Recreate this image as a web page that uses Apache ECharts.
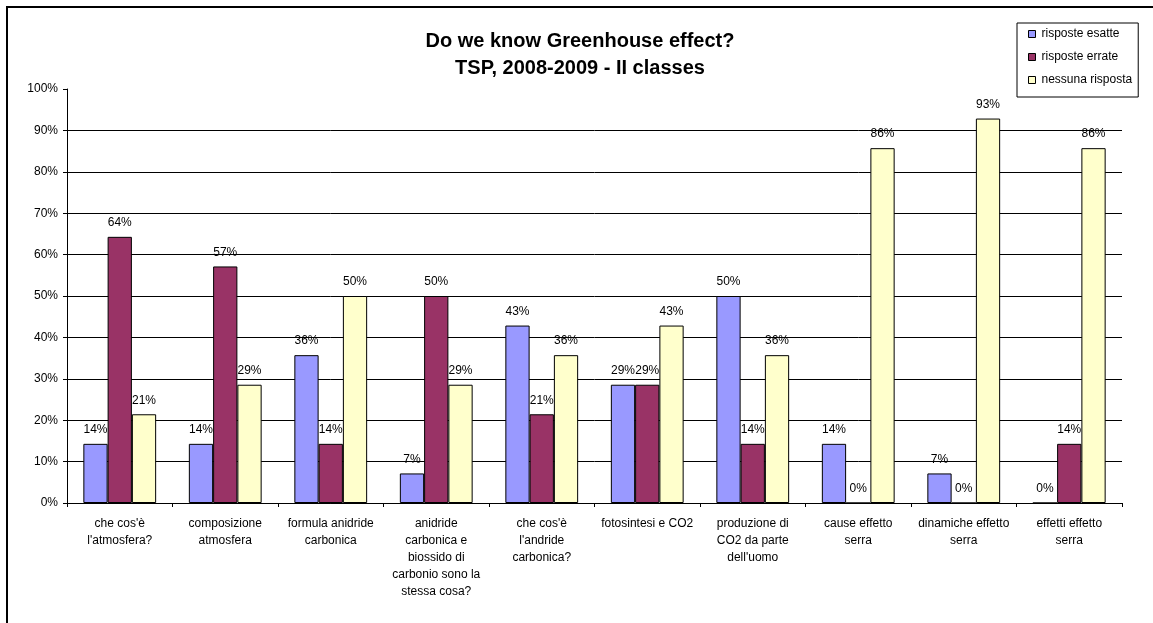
<!DOCTYPE html>
<html>
<head>
<meta charset="utf-8">
<script src="https://cdn.jsdelivr.net/npm/echarts@6/dist/echarts.min.js"></script>
<style>
  html, body { margin: 0; padding: 0; background: #fff; }
  #chart { width: 1153px; height: 623px; }
</style>
</head>
<body>
<div id="chart"></div>
<script>
// categorie (domande)
const categories = [
  "che cos'è\nl'atmosfera?",
  'composizione\natmosfera',
  'formula anidride\ncarbonica',
  'anidride\ncarbonica e\nbiossido di\ncarbonio sono la\nstessa cosa?',
  "che cos'è\nl'andride\ncarbonica?",
  'fotosintesi e CO2',
  "produzione di\nCO2 da parte\ndell'uomo",
  'cause effetto\nserra',
  'dinamiche effetto\nserra',
  'effetti effetto\nserra'
]

// valori in % (14 studenti)
const esatte = [14.29, 14.29, 35.71, 7.14, 42.86, 28.57, 50, 14.29, 7.14, 0]
const errate = [64.29, 57.14, 14.29, 50, 21.43, 28.57, 14.29, 0, 0, 14.29]
const nessuna = [21.43, 28.57, 50, 28.57, 35.71, 42.86, 35.71, 85.71, 92.86, 85.71]

const seriesNames = ['risposte esatte', 'risposte errate', 'nessuna risposta']
const seriesColors = ['#9999ff', '#993366', '#ffffcc']

const font = 'Liberation Sans, Arial, sans-serif'

const chart = echarts.init(document.getElementById('chart'))

const makeSeries = (name, data, color) => ({
  name: name,
  type: 'bar',
  data: data,
  barGap: '0%',
  barCategoryGap: '31%',
  itemStyle: { color: color, borderColor: '#000', borderWidth: 1 },
  label: {
    show: true,
    position: 'top',
    distance: 8,
    color: '#000',
    fontFamily: font,
    fontSize: 12,
    formatter: p => Math.round(p.value) + '%'
  }
})

chart.setOption({
  animation: false,
  backgroundColor: '#fff',
  title: {
    text: 'Do we know Greenhouse effect?\nTSP, 2008-2009 - II classes',
    left: 575,
    top: 23,
    textAlign: 'center',
    textStyle: {
      fontFamily: font,
      fontSize: 20,
      fontWeight: 'bold',
      color: '#000',
      lineHeight: 27
    }
  },
  legend: {
    orient: 'vertical',
    left: 1017,
    top: 23,
    width: 124,
    padding: [4, 6, 10, 11],
    itemGap: 9,
    itemWidth: 7,
    itemHeight: 7,
    borderColor: '#000',
    borderWidth: 1,
    icon: 'rect',
    itemStyle: { borderColor: '#000', borderWidth: 1 },
    textStyle: { fontFamily: font, fontSize: 12, lineHeight: 14, color: '#000', padding: [0, 0, 0, 1] },
    data: seriesNames
  },
  grid: { left: 67, right: 31, top: 89, bottom: 120 },
  xAxis: {
    type: 'category',
    data: categories,
    axisLine: { lineStyle: { color: '#000', width: 1 } },
    axisTick: { show: true, length: 4, inside: false, lineStyle: { color: '#000' } },
    axisLabel: {
      interval: 0,
      margin: 12,
      fontFamily: font,
      fontSize: 12,
      lineHeight: 17,
      color: '#000'
    }
  },
  yAxis: {
    type: 'value',
    min: 0,
    max: 100,
    interval: 10,
    axisLine: { show: true, lineStyle: { color: '#000' } },
    axisTick: { show: true, length: 4, lineStyle: { color: '#000' } },
    axisLabel: {
      fontFamily: font,
      fontSize: 12,
      color: '#000',
      margin: 9,
      formatter: v => v + '%'
    },
    splitLine: {
      show: true,
      lineStyle: {
        // nessuna griglia al 100%
        color: ['#000', '#000', '#000', '#000', '#000', '#000', '#000', '#000', '#000', '#000', 'rgba(0,0,0,0)'],
        width: 1
      }
    }
  },
  graphic: [{
    type: 'rect',
    shape: { x: 7, y: 7, width: 1300, height: 800 },
    style: { fill: 'none', stroke: '#000', lineWidth: 2 },
    silent: true
  }],
  series: [
    makeSeries(seriesNames[0], esatte, seriesColors[0]),
    makeSeries(seriesNames[1], errate, seriesColors[1]),
    makeSeries(seriesNames[2], nessuna, seriesColors[2])
  ]
})
</script>
</body>
</html>
